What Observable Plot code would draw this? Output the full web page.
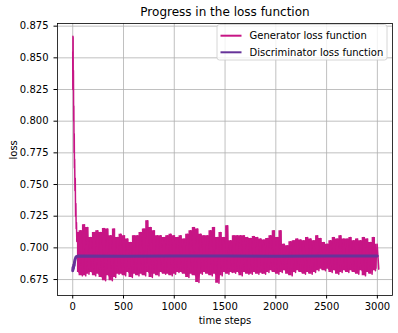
<!DOCTYPE html>
<html><head><meta charset="utf-8">
<script src="https://cdn.jsdelivr.net/npm/d3@7"></script>
<script src="https://cdn.jsdelivr.net/npm/@observablehq/plot@0.6"></script>
<style>body{margin:0;background:#fff}</style>
</head><body><div id="chart"></div>
<script>
// ---- data ----
const titleText = "Progress in the loss function";
const xLabel = "time steps";
const yLabel = "loss";
const seriesNames = ["Generator loss function", "Discriminator loss function"];
const seriesColors = ["#c71585", "#663399"];
const xTicks = [0, 500, 1000, 1500, 2000, 2500, 3000];
const yTicks = [0.675, 0.700, 0.725, 0.750, 0.775, 0.800, 0.825, 0.850, 0.875];

// generator: initial decline
const genStartSteps = [0, 1, 2, 4, 5, 7, 9, 11, 13, 15, 17, 19, 22, 25, 28, 31, 34, 37, 40];
const genStartLoss = [0.855, 0.825, 0.867, 0.866, 0.830, 0.840, 0.800, 0.812, 0.775, 0.790, 0.763, 0.770, 0.745, 0.755, 0.725, 0.735, 0.715, 0.720, 0.705];

// generator: noisy plateau, upper and lower envelope per ~33-step window (from step 46 to 2998)
const genWindowSteps = [46,79,112,144,177,210,243,276,308,341,374,407,440,472,505,538,571,604,636,669,702,735,768,800,833,866,899,932,964,997,1030,1063,1096,1128,1161,1194,1227,1260,1292,1325,1358,1391,1424,1456,1489,1522,1555,1588,1620,1653,1686,1719,1752,1784,1817,1850,1883,1916,1948,1981,2014,2047,2080,2112,2145,2178,2211,2244,2276,2309,2342,2375,2408,2440,2473,2506,2539,2572,2604,2637,2670,2703,2736,2768,2801,2834,2867,2900,2932,2965,2998];
const genHigh = [0.7121,0.7135,0.7182,0.7161,0.7082,0.7121,0.7135,0.7121,0.7153,0.7148,0.7095,0.7148,0.7082,0.7108,0.7095,0.7069,0.7042,0.7095,0.7095,0.7121,0.7148,0.7214,0.7161,0.7135,0.7095,0.7095,0.7082,0.7095,0.7108,0.7095,0.7082,0.7095,0.7069,0.7108,0.7135,0.7161,0.7148,0.7108,0.7095,0.7095,0.7135,0.7161,0.7082,0.7121,0.7082,0.7174,0.7056,
  0.7095,0.7095,0.7095,0.7095,0.7082,0.7074,0.7090,0.7082,0.7069,0.7063,0.7074,0.7095,0.7135,0.7082,0.7135,0.7029,0.7016,0.7048,0.7056,0.7069,0.7063,0.7056,0.7082,0.7069,0.7056,0.7095,0.7074,0.7042,0.7029,0.7056,0.7082,0.7069,0.7095,0.7069,0.7069,0.7082,0.7056,0.7069,0.7056,0.7082,0.7069,0.7042,0.7082,0.7029];
const genLow = [0.6805,0.6779,0.6779,0.6792,0.6805,0.6779,0.6792,0.6766,0.6740,0.6779,0.6740,0.6766,0.6792,0.6792,0.6779,0.6805,0.6766,0.6792,0.6779,0.6792,0.6779,0.6805,0.6766,0.6792,0.6779,0.6805,0.6792,0.6792,0.6779,0.6792,0.6805,0.6805,0.6792,0.6766,0.6792,0.6779,0.6726,0.6792,0.6805,0.6792,0.6779,0.6792,0.6721,0.6779,0.6805,0.6792,0.6805,
  0.6800,0.6805,0.6779,0.6805,0.6792,0.6792,0.6805,0.6792,0.6800,0.6792,0.6805,0.6819,0.6805,0.6792,0.6805,0.6819,0.6792,0.6779,0.6805,0.6819,0.6805,0.6792,0.6805,0.6792,0.6805,0.6819,0.6832,0.6819,0.6832,0.6805,0.6819,0.6792,0.6805,0.6819,0.6805,0.6819,0.6805,0.6792,0.6819,0.6779,0.6805,0.6792,0.6819,0.6832];

// discriminator
const discSteps = [0, 3, 6, 10, 14, 18, 22, 26, 30, 35, 40, 50, 500, 1000, 1500, 2000, 2500, 2999];
const discLoss = [0.682, 0.6845, 0.6835, 0.6865, 0.686, 0.689, 0.6905, 0.6915, 0.6925, 0.693, 0.6933, 0.6935, 0.6934, 0.6936, 0.6935, 0.6934, 0.6936, 0.6935];

// ---- build tables ----
const genRows = genStartSteps.map((s, i) => ({step: s, loss: genStartLoss[i]}));
genWindowSteps.forEach((s, i) => {
  genRows.push({step: s, loss: genHigh[i]});
  genRows.push({step: s + 16, loss: genLow[i]});
});
const genBand = genWindowSteps.map((s, i) => ({step: s, lo: genLow[i], hi: genHigh[i]}));
const discRows = discSteps.map((s, i) => ({step: s, loss: discLoss[i]}));

const W = 398, H = 333;
const mL = 57, mR = 6, mT = 23, mB = 38;

const chart = Plot.plot({
  width: W, height: H,
  marginLeft: mL, marginRight: mR, marginTop: mT, marginBottom: mB,
  style: {fontFamily: "DejaVu Sans", fontSize: "10px", color: "black", background: "white", overflow: "visible"},
  x: {domain: [-150, 3149]},
  y: {domain: [0.6624, 0.8771]},
  marks: [
    Plot.gridX(xTicks, {stroke: "#b0b0b0", strokeOpacity: 1, strokeWidth: 0.8}),
    Plot.gridY(yTicks, {stroke: "#b0b0b0", strokeOpacity: 1, strokeWidth: 0.8}),
    Plot.areaY(genBand, {x: "step", y1: "lo", y2: "hi", curve: "step", fill: seriesColors[0]}),
    Plot.line(genRows, {x: "step", y: "loss", stroke: seriesColors[0], strokeWidth: 1.5}),
    Plot.line(discRows, {x: "step", y: "loss", stroke: seriesColors[1], strokeWidth: 3}),
    Plot.frame({stroke: "black", strokeWidth: 0.8}),
    Plot.axisX({ticks: xTicks, tickSize: 3.5, tickPadding: 3.5, label: null, tickFormat: d => String(d), fill: "black"}),
    Plot.axisY({ticks: yTicks, tickSize: 3.5, tickPadding: 5.5, label: null, tickFormat: d3.format(".3f"), fill: "black"}),
    Plot.text([titleText], {frameAnchor: "top", dy: -7.5, lineAnchor: "bottom", fontSize: 12, fill: "black"}),
    Plot.text([xLabel], {frameAnchor: "bottom", dy: 28, lineAnchor: "bottom", fill: "black"}),
    Plot.text([yLabel], {frameAnchor: "left", dx: -44, rotate: -90, fill: "black"})
  ]
});
document.getElementById("chart").appendChild(chart);

// ---- legend (upper right, matplotlib style) ----
const svg = d3.select(chart);
const lg = svg.append("g").attr("font-family", "DejaVu Sans").attr("font-size", 10).attr("text-anchor", "start");
const bx = 217, by = 24.5, bw = W - mR - 5 - bx, bh = 35.5;
lg.append("rect").attr("x", bx).attr("y", by).attr("width", bw).attr("height", bh)
  .attr("rx", 2.5).attr("fill", "white").attr("fill-opacity", 0.8)
  .attr("stroke", "#cccccc").attr("stroke-width", 0.8);
seriesNames.forEach((name, i) => {
  const yy = 35.7 + i * 16.6;
  lg.append("line").attr("x1", 220.5).attr("x2", 241.5).attr("y1", yy).attr("y2", yy)
    .attr("stroke", seriesColors[i]).attr("stroke-width", 2);
  lg.append("text").attr("x", 249.5).attr("y", yy + 3.5).attr("fill", "black")
    .attr("text-anchor", "start").text(name);
});
</script>
</body></html>
